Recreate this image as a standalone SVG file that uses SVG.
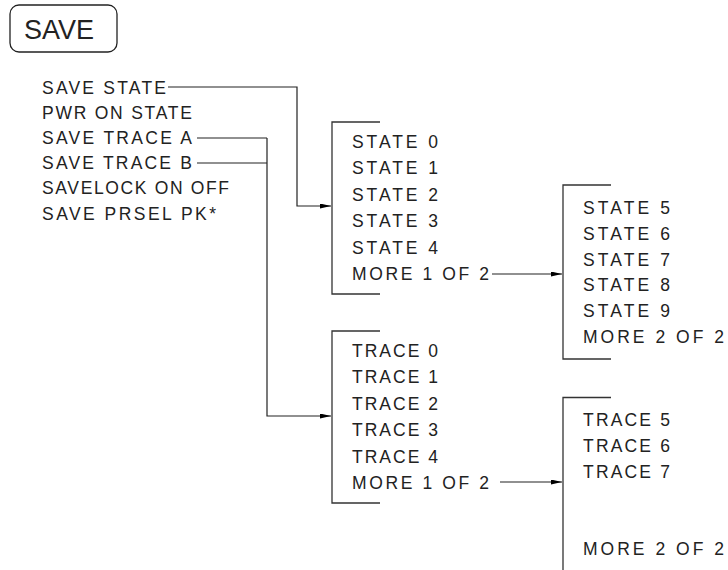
<svg xmlns="http://www.w3.org/2000/svg" width="728" height="570" viewBox="0 0 728 570">
<style>
  text { font-family: "Liberation Sans", Arial, sans-serif; font-size: 17.5px; fill: #222; }
  .key { font-size: 27px; }
  .bracket { fill: none; stroke: #333; stroke-width: 1.3; }
  .conn { fill: none; stroke: #222; stroke-width: 1.2; }
  .keybox { fill: #fff; stroke: #222; stroke-width: 1.3; }
</style>
<defs>
  <marker id="arr" viewBox="0 0 11 5" refX="11" refY="2.5" markerWidth="11" markerHeight="5" markerUnits="userSpaceOnUse" orient="auto">
    <path d="M0,0 L11,2.5 L0,5 Z" fill="#000"/>
  </marker>
</defs>
<rect width="728" height="570" fill="#fff"/>

<g id="save-key">
  <rect class="keybox" x="10" y="5" width="107" height="47" rx="9" ry="9"/>
  <text class="key" x="24" y="38.5" textLength="70" lengthAdjust="spacing">SAVE</text>
</g>

<g id="save-menu">
  <text x="42" y="93.5" textLength="124" lengthAdjust="spacing">SAVE STATE</text>
  <text x="42" y="118.7" textLength="150" lengthAdjust="spacing">PWR ON STATE</text>
  <text x="42" y="143.9" textLength="150" lengthAdjust="spacing">SAVE TRACE A</text>
  <text x="42" y="169.1" textLength="150" lengthAdjust="spacing">SAVE TRACE B</text>
  <text x="42" y="194.3" textLength="187" lengthAdjust="spacing">SAVELOCK ON OFF</text>
  <text x="42" y="219.5" textLength="174" lengthAdjust="spacing">SAVE PRSEL PK*</text>
</g>

<g id="state-menu-1">
  <path class="bracket" d="M380,122 H332 V294 H380"/>
  <text x="352" y="148" textLength="86" lengthAdjust="spacing">STATE 0</text>
  <text x="352" y="174.4" textLength="86" lengthAdjust="spacing">STATE 1</text>
  <text x="352" y="200.8" textLength="86" lengthAdjust="spacing">STATE 2</text>
  <text x="352" y="227.2" textLength="86" lengthAdjust="spacing">STATE 3</text>
  <text x="352" y="253.6" textLength="86" lengthAdjust="spacing">STATE 4</text>
  <text x="352" y="280" textLength="137" lengthAdjust="spacing">MORE 1 OF 2</text>
</g>

<g id="state-menu-2">
  <path class="bracket" d="M611,185 H563 V359 H611"/>
  <text x="583" y="214" textLength="87" lengthAdjust="spacing">STATE 5</text>
  <text x="583" y="239.8" textLength="87" lengthAdjust="spacing">STATE 6</text>
  <text x="583" y="265.6" textLength="87" lengthAdjust="spacing">STATE 7</text>
  <text x="583" y="291.4" textLength="87" lengthAdjust="spacing">STATE 8</text>
  <text x="583" y="317.2" textLength="87" lengthAdjust="spacing">STATE 9</text>
  <text x="583" y="343" textLength="141" lengthAdjust="spacing">MORE 2 OF 2</text>
</g>

<g id="trace-menu-1">
  <path class="bracket" d="M380,331 H332 V503 H380"/>
  <text x="352" y="357" textLength="86" lengthAdjust="spacing">TRACE 0</text>
  <text x="352" y="383.4" textLength="86" lengthAdjust="spacing">TRACE 1</text>
  <text x="352" y="409.8" textLength="86" lengthAdjust="spacing">TRACE 2</text>
  <text x="352" y="436.2" textLength="86" lengthAdjust="spacing">TRACE 3</text>
  <text x="352" y="462.6" textLength="86" lengthAdjust="spacing">TRACE 4</text>
  <text x="352" y="489" textLength="137" lengthAdjust="spacing">MORE 1 OF 2</text>
</g>

<g id="trace-menu-2">
  <path class="bracket" d="M611,397.5 H563 V575"/>
  <text x="583" y="426" textLength="87" lengthAdjust="spacing">TRACE 5</text>
  <text x="583" y="451.8" textLength="87" lengthAdjust="spacing">TRACE 6</text>
  <text x="583" y="477.6" textLength="87" lengthAdjust="spacing">TRACE 7</text>
  <text x="583" y="555" textLength="141" lengthAdjust="spacing">MORE 2 OF 2</text>
</g>

<g id="connectors">
  <path class="conn" d="M168,87 H297 V206 H331" marker-end="url(#arr)"/>
  <path class="conn" d="M197,138 H267"/>
  <path class="conn" d="M197,163 H267"/>
  <path class="conn" d="M267,138 V416 H331" marker-end="url(#arr)"/>
  <path class="conn" d="M492,274 H562" marker-end="url(#arr)"/>
  <path class="conn" d="M500,482 H562" marker-end="url(#arr)"/>
</g>
</svg>
